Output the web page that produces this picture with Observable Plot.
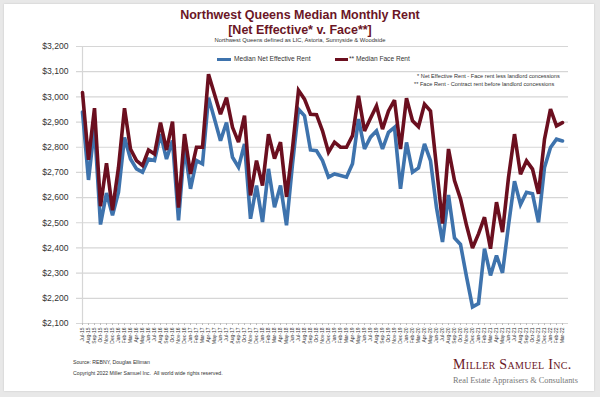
<!DOCTYPE html>
<html>
<head>
<meta charset="utf-8">
<script src="https://cdn.jsdelivr.net/npm/d3@7"></script>
<script src="https://cdn.jsdelivr.net/npm/@observablehq/plot@0.6"></script>
<style>
  html, body { margin: 0; padding: 0; background: #e8e8e8; }
  #wrap { position: relative; width: 600px; height: 397px; overflow: hidden; font-family: "Liberation Sans", Arial, sans-serif; }
  #card { position: absolute; left: 4px; top: 4px; width: 590px; height: 387px; background: #fff; box-shadow: 0 0 2px rgba(0,0,0,0.15); }
  .t { position: absolute; white-space: nowrap; }
  #chart { position: absolute; left: 0; top: 0; }
</style>
</head>
<body>
<div id="wrap">
  <div id="card"></div>
  <div id="chart"></div>
  <div class="t" style="left:0;width:600px;top:8px;text-align:center;font-size:12.5px;font-weight:bold;color:#6b1626;line-height:15px;">Northwest Queens Median Monthly Rent<br>[Net Effective* v. Face**]</div>
  <div class="t" style="left:0;width:600px;top:37px;text-align:center;font-size:5.8px;color:#333;">Northwest Queens defined as LIC, Astoria, Sunnyside &amp; Woodside</div>
  <div class="t" style="left:217px;top:55px;font-size:6.6px;color:#333;"><span style="display:inline-block;width:14px;height:3px;background:#3e73ad;vertical-align:middle;margin-right:3px;"></span>Median Net Effective Rent</div>
  <div class="t" style="left:335px;top:55px;font-size:6.6px;color:#333;"><span style="display:inline-block;width:13px;height:3px;background:#6b0f1f;vertical-align:middle;margin-right:1px;"></span>** Median Face Rent</div>
  <div class="t" style="left:414px;top:72px;font-size:5.6px;color:#333;line-height:8px;">&nbsp;&nbsp;* Net Effective Rent - Face rent less landlord concessions<br>** Face Rent - Contract rent before landlord concessions</div>
  <div class="t" style="left:73px;top:357px;font-size:5.2px;color:#333;line-height:11px;">Source: REBNY, Douglas Elliman<br>Copyright 2022 Miller Samuel Inc.&nbsp;&nbsp;All world wide rights reserved.</div>
  <div class="t" style="left:453px;top:357px;font-family:'Liberation Serif','DejaVu Serif',serif;font-size:14px;color:#6b1626;font-variant:small-caps;letter-spacing:0.3px;">Miller Samuel Inc.</div>
  <div class="t" style="left:453px;top:376px;font-family:'Liberation Serif','DejaVu Serif',serif;font-size:8.3px;color:#777;">Real Estate Appraisers &amp; Consultants</div>
</div>
<script>
const startMonth = new Date(Date.UTC(2015, 6, 1));
const endMonth = new Date(Date.UTC(2022, 3, 1));
const monthLabels = d3.utcMonths(startMonth, endMonth).map(d3.utcFormat("%b-%y"));

const netEffective = [
  2940, 2670, 2880, 2493, 2618, 2530, 2622, 2839, 2753, 2714, 2701, 2753,
  2747, 2852, 2753, 2826, 2510, 2800, 2635, 2747, 2734, 2997, 2912, 2826,
  2898, 2760, 2721, 2813, 2516, 2648, 2503, 2714, 2562, 2648, 2490, 2733,
  2951, 2925, 2789, 2786, 2747, 2681, 2694, 2688, 2681, 2734, 2912, 2793,
  2840, 2865, 2793, 2859, 2879, 2635, 2819, 2701, 2718, 2813, 2747, 2560,
  2424, 2610, 2440, 2414, 2286, 2166, 2179, 2397, 2291, 2370, 2301, 2490,
  2665, 2572, 2621, 2615, 2502, 2720, 2799, 2832, 2825
];
const faceRent = [
  3017, 2750, 2955, 2566, 2736, 2550, 2720, 2955, 2793, 2747, 2727, 2789,
  2773, 2898, 2789, 2902, 2560, 2852, 2694, 2800, 2800, 3090, 3010, 2931,
  2997, 2879, 2820, 2925, 2609, 2747, 2648, 2852, 2755, 2820, 2603, 2795,
  3026, 2991, 2931, 2929, 2865, 2780, 2820, 2800, 2800, 2846, 3004, 2865,
  2915, 2964, 2872, 2944, 2987, 2793, 2995, 2905, 2881, 2971, 2944, 2721,
  2497, 2793, 2668, 2595, 2490, 2400, 2456, 2522, 2397, 2582, 2463, 2680,
  2852, 2693, 2746, 2713, 2615, 2832, 2951, 2885, 2898
];
const yTicks = [2100, 2200, 2300, 2400, 2500, 2600, 2700, 2800, 2900, 3000, 3100, 3200];

const netData = monthLabels.map((m, i) => ({month: m, value: netEffective[i]}));
const faceData = monthLabels.map((m, i) => ({month: m, value: faceRent[i]}));

const chart = Plot.plot({
  width: 600,
  height: 352,
  marginLeft: 76,
  marginRight: 32,
  marginTop: 46,
  marginBottom: 29,
  style: {background: "transparent", fontFamily: "Liberation Sans, Arial, sans-serif", color: "#333"},
  x: {type: "point", domain: monthLabels, padding: 0, label: null},
  y: {domain: [2100, 3200], label: null},
  marks: [
    Plot.ruleY(yTicks, {stroke: "#d6d6d6", strokeWidth: 1.2}),
    Plot.ruleX([monthLabels[0]], {stroke: "#d6d6d6", strokeWidth: 1.2}),
    Plot.axisY({ticks: yTicks, tickFormat: d => "$" + d3.format(",")(d), tickSize: 0, tickPadding: 8, fontSize: 8.6, label: null}),
    Plot.axisX({tickRotate: -90, tickSize: 2, tickPadding: 2, fontSize: 5, label: null, stroke: "#bbb"}),
    Plot.line(netData, {x: "month", y: "value", stroke: "#3e73ad", strokeWidth: 3.6, strokeLinejoin: "miter", strokeMiterlimit: 3}),
    Plot.line(faceData, {x: "month", y: "value", stroke: "#6b0f1f", strokeWidth: 3.6, strokeLinejoin: "miter", strokeMiterlimit: 3})
  ]
});
document.getElementById("chart").appendChild(chart);
</script>
</body>
</html>
